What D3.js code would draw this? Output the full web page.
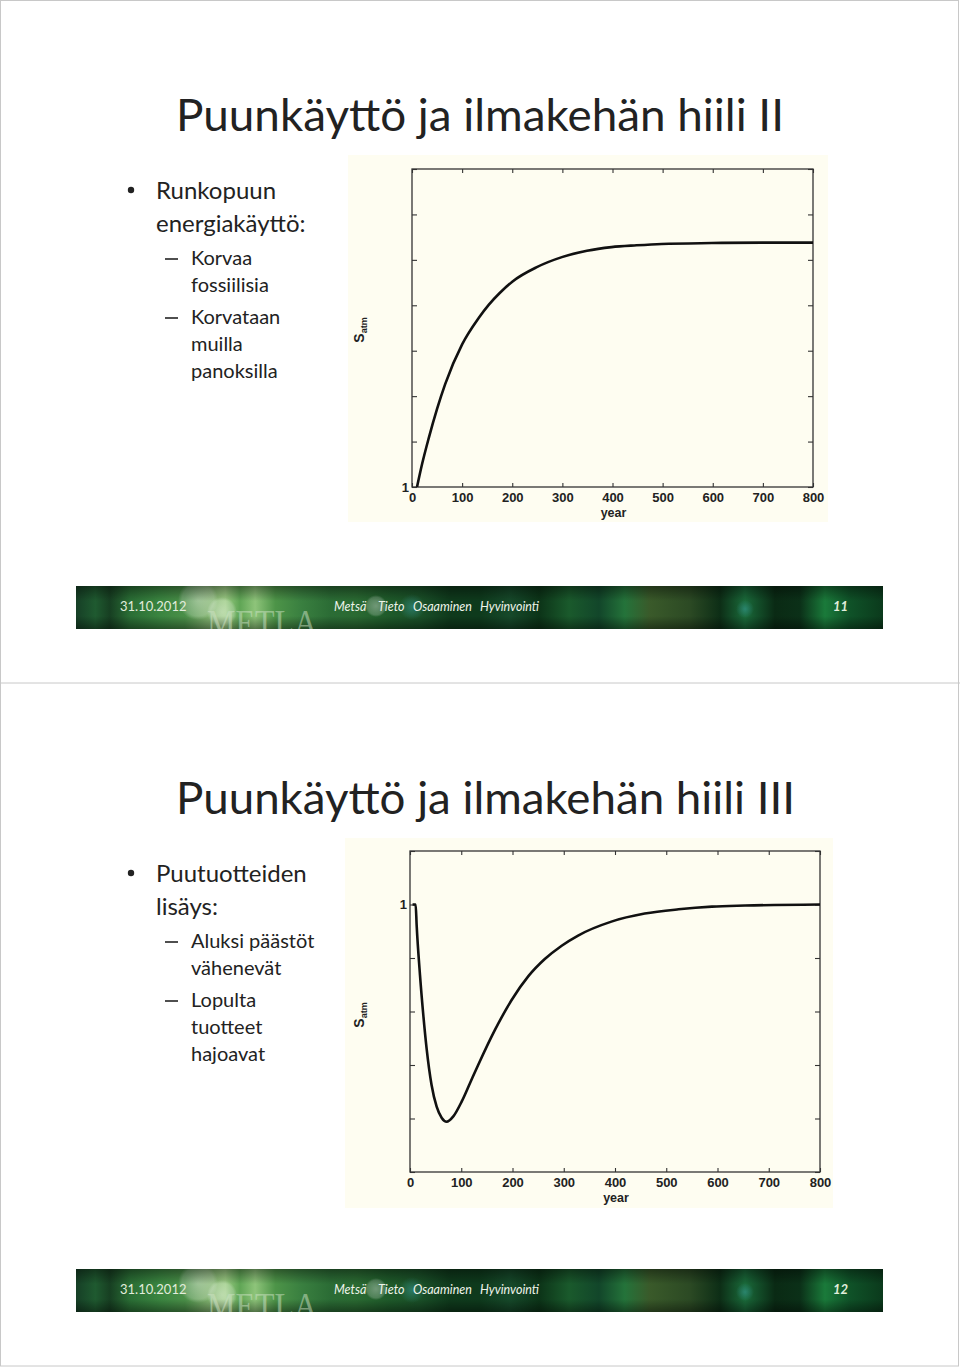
<!DOCTYPE html>
<html>
<head>
<meta charset="utf-8">
<script src="https://cdn.jsdelivr.net/npm/d3@7"></script>
<style>
  html, body { margin: 0; padding: 0; background: #fff; }
  svg { display: block; }
  .ax text { font-family: 'Liberation Sans', Arial, sans-serif; font-weight: bold; font-size: 13px; fill: #222; }
  .ax line { stroke: #333; stroke-width: 1.1; }
</style>
</head>
<body>
<div id="chart"></div>
<script>
// slide 11: energy use of stem wood
const topYears = [10, 20, 33, 50, 66, 100, 133, 153, 175, 200, 249, 299, 349, 398, 448, 498, 598, 700, 800]
const topSatm = [1.000, 1.050, 1.106, 1.172, 1.226, 1.314, 1.372, 1.401, 1.427, 1.452, 1.484, 1.506, 1.520, 1.528, 1.532, 1.535, 1.537, 1.538, 1.538]
const topYTicks = [1, 1.1, 1.2, 1.3, 1.4, 1.5, 1.6, 1.7]

// slide 12: adding wood products
const botYears = [5, 11, 13, 19.5, 26, 32.5, 42, 52, 62, 71.5, 84.5, 101, 117, 133, 166, 198, 231, 263, 296, 328, 393, 458, 524, 589, 654, 800]
const botSatm = [1.0, 1.0, 0.961, 0.868, 0.793, 0.730, 0.663, 0.622, 0.601, 0.594, 0.604, 0.632, 0.666, 0.700, 0.766, 0.821, 0.866, 0.898, 0.923, 0.942, 0.968, 0.983, 0.991, 0.996, 0.998, 1.0]
const botYTicks = [0.5, 0.6, 0.7, 0.8, 0.9, 1.0, 1.1]

const xTicks = [0, 100, 200, 300, 400, 500, 600, 700, 800]

const slides = [
  {
    title: 'Puunkäyttö ja ilmakehän hiili II',
    bullet: ['Runkopuun', 'energiakäyttö:'],
    subs: [['Korvaa', 'fossiilisia'], ['Korvataan', 'muilla', 'panoksilla']],
    page: '11'
  },
  {
    title: 'Puunkäyttö ja ilmakehän hiili III',
    bullet: ['Puutuotteiden', 'lisäys:'],
    subs: [['Aluksi päästöt', 'vähenevät'], ['Lopulta', 'tuotteet', 'hajoavat']],
    page: '12'
  }
]
const footerWords = ['Metsä', 'Tieto', 'Osaaminen', 'Hyvinvointi']
const footerDate = '31.10.2012'

const W = 960
const H = 1367
const textFont = "Lato, 'Open Sans', sans-serif"

const svg = d3.select('#chart').append('svg')
  .attr('width', W)
  .attr('height', H)

const defs = svg.append('defs')

// banner gradient (vertical light streaks)
const bandStops = [
  [0, '#163f26'], [0.024, '#1f5a30'], [0.042, '#173f22'], [0.067, '#2a6e35'],
  [0.104, '#3a8540'], [0.135, '#4a8f48'], [0.16, '#7aae6a'], [0.185, '#9ccc84'],
  [0.203, '#5fa555'], [0.222, '#8ec47a'], [0.247, '#4d9448'], [0.278, '#3a8040'],
  [0.315, '#2b6c35'], [0.347, '#2a6a32'], [0.389, '#1e5a2a'], [0.426, '#1a5028'],
  [0.463, '#0f3a1c'], [0.5, '#0e3a1c'], [0.538, '#16492a'], [0.574, '#0c3418'],
  [0.611, '#1a5a2c'], [0.648, '#12462a'], [0.68, '#24733a'], [0.711, '#3a5a2a'],
  [0.76, '#2c4a24'], [0.798, '#0d2e16'], [0.829, '#1a6a3a'], [0.866, '#0a2a14'],
  [0.897, '#0b3018'], [0.928, '#1a7a3a'], [0.959, '#0f5228'], [1, '#0b3a1c']
]
const bandGrad = defs.append('linearGradient')
  .attr('id', 'band')
  .attr('x1', 0).attr('x2', 1).attr('y1', 0).attr('y2', 0)
bandGrad.selectAll('stop').data(bandStops).join('stop')
  .attr('offset', d => d[0])
  .attr('stop-color', d => d[1])

const shade = defs.append('linearGradient')
  .attr('id', 'shade')
  .attr('x1', 0).attr('x2', 0).attr('y1', 0).attr('y2', 1)
shade.selectAll('stop').data([[0, 0.4], [0.35, 0], [0.7, 0], [1, 0.4]]).join('stop')
  .attr('offset', d => d[0])
  .attr('stop-color', '#000')
  .attr('stop-opacity', d => d[1])

const glow = defs.append('radialGradient').attr('id', 'glow')
glow.append('stop').attr('offset', 0).attr('stop-color', '#fff').attr('stop-opacity', 0.35)
glow.append('stop').attr('offset', 0.8).attr('stop-color', '#fff').attr('stop-opacity', 0.2)
glow.append('stop').attr('offset', 1).attr('stop-color', '#fff').attr('stop-opacity', 0)

const teal = defs.append('radialGradient').attr('id', 'teal')
teal.append('stop').attr('offset', 0).attr('stop-color', '#3aa0a0').attr('stop-opacity', 0.5)
teal.append('stop').attr('offset', 1).attr('stop-color', '#3aa0a0').attr('stop-opacity', 0)

// banner clip, in banner-local coordinates
defs.append('clipPath').attr('id', 'bclip')
  .append('rect').attr('x', 76).attr('y', 586).attr('width', 807).attr('height', 43)

// page frame and slide separator
svg.append('rect')
  .attr('x', 0.5).attr('y', 0.5)
  .attr('width', W - 2).attr('height', H - 1.5)
  .attr('fill', 'none')
  .attr('stroke', '#c8c8c8')
svg.append('line')
  .attr('x1', 0).attr('x2', W)
  .attr('y1', 683).attr('y2', 683)
  .attr('stroke', '#c8c8c8')

const drawSlide = (s, i, oy) => {
  const g = svg.append('g').attr('transform', 'translate(0,' + oy + ')')

  g.append('text')
    .attr('x', 176).attr('y', 131)
    .attr('textLength', i ? 619 : 608)
    .attr('lengthAdjust', 'spacingAndGlyphs')
    .attr('font-family', textFont)
    .attr('font-size', 44)
    .attr('fill', '#222')
    .text(s.title)

  // bullet
  g.append('circle').attr('cx', 131).attr('cy', 190).attr('r', 3.2).attr('fill', '#222')
  s.bullet.forEach((t, k) => {
    g.append('text')
      .attr('x', 156).attr('y', 199 + k * 33)
      .attr('font-family', textFont).attr('font-size', 24).attr('fill', '#222')
      .text(t)
  })

  let y = 265
  s.subs.forEach(lines => {
    g.append('line')
      .attr('x1', 165).attr('x2', 178)
      .attr('y1', y - 6).attr('y2', y - 6)
      .attr('stroke', '#222').attr('stroke-width', 1.6)
    lines.forEach((t, j) => {
      g.append('text')
        .attr('x', 191).attr('y', y + j * 27)
        .attr('font-family', textFont).attr('font-size', 20).attr('fill', '#222')
        .text(t)
    })
    y += lines.length * 27 + 5
  })

  // footer banner
  const bb = g.append('g').attr('clip-path', 'url(#bclip)')
  bb.append('rect').attr('x', 76).attr('y', 586).attr('width', 807).attr('height', 43).attr('fill', 'url(#band)')
  bb.append('circle').attr('cx', 198).attr('cy', 600).attr('r', 20).attr('fill', 'url(#glow)')
  bb.append('circle').attr('cx', 222).attr('cy', 612).attr('r', 15).attr('fill', 'url(#glow)')
  bb.append('circle').attr('cx', 376).attr('cy', 606).attr('r', 11).attr('fill', 'url(#glow)')
  bb.append('circle').attr('cx', 412).attr('cy', 607).attr('r', 13).attr('fill', 'url(#teal)')
  bb.append('circle').attr('cx', 745).attr('cy', 609).attr('r', 9).attr('fill', 'url(#teal)')
  bb.append('rect').attr('x', 76).attr('y', 586).attr('width', 807).attr('height', 43).attr('fill', 'url(#shade)')
  bb.append('text')
    .attr('x', 207).attr('y', 635)
    .attr('textLength', 110).attr('lengthAdjust', 'spacingAndGlyphs')
    .attr('font-family', "'Liberation Serif', 'DejaVu Serif', serif")
    .attr('font-size', 36)
    .attr('fill', '#cfe3c6').attr('fill-opacity', 0.5)
    .text('METLA')
  bb.append('text')
    .attr('x', 120).attr('y', 611)
    .attr('font-family', textFont).attr('font-size', 13)
    .attr('fill', '#e2ecdc')
    .text(footerDate)
  const wx = [334, 378, 413, 480]
  footerWords.forEach((w, k) => {
    bb.append('text')
      .attr('x', wx[k]).attr('y', 611)
      .attr('font-family', textFont).attr('font-style', 'italic').attr('font-size', 12.5)
      .attr('fill', '#eef4ea')
      .text(w)
  })
  bb.append('text')
    .attr('x', 848).attr('y', 611)
    .attr('text-anchor', 'end')
    .attr('font-family', textFont).attr('font-style', 'italic').attr('font-weight', 'bold').attr('font-size', 13)
    .attr('fill', '#e2eedc')
    .text(s.page)
}

slides.forEach((s, i) => drawSlide(s, i, i ? 683 : 0))

const drawChart = (cfg) => {
  const g = svg.append('g')

  g.append('rect')
    .attr('x', cfg.panel[0]).attr('y', cfg.panel[1])
    .attr('width', cfg.panel[2]).attr('height', cfg.panel[3])
    .attr('fill', '#fefdf1')

  const x = d3.scaleLinear().domain([0, 800]).range([cfg.box[0], cfg.box[2]])
  const y = d3.scaleLinear().domain(cfg.yDomain).range([cfg.box[3], cfg.box[1]])

  const fmtY = d => (Math.abs(d - 1) < 1e-9 ? '1' : '')

  g.append('g').attr('class', 'ax')
    .attr('transform', 'translate(0,' + cfg.box[3] + ')')
    .call(d3.axisBottom(x).tickValues(xTicks).tickSizeInner(-4).tickSizeOuter(0).tickPadding(6))
  g.append('g').attr('class', 'ax')
    .attr('transform', 'translate(0,' + cfg.box[1] + ')')
    .call(d3.axisTop(x).tickValues(xTicks).tickSizeInner(-4).tickSizeOuter(0).tickFormat(''))
  g.append('g').attr('class', 'ax')
    .attr('transform', 'translate(' + cfg.box[0] + ',0)')
    .call(d3.axisLeft(y).tickValues(cfg.yTicks).tickSizeInner(-5).tickSizeOuter(0).tickPadding(3).tickFormat(fmtY))
  g.append('g').attr('class', 'ax')
    .attr('transform', 'translate(' + cfg.box[2] + ',0)')
    .call(d3.axisRight(y).tickValues(cfg.yTicks).tickSizeInner(-5).tickSizeOuter(0).tickFormat(''))
  g.selectAll('.ax .domain').remove()

  g.append('rect')
    .attr('x', cfg.box[0]).attr('y', cfg.box[1])
    .attr('width', cfg.box[2] - cfg.box[0]).attr('height', cfg.box[3] - cfg.box[1])
    .attr('fill', 'none')
    .attr('stroke', '#333')
    .attr('stroke-width', 1.3)

  const line = d3.line()
    .x(d => x(d[0]))
    .y(d => y(d[1]))
    .curve(d3.curveMonotoneX)

  g.append('path')
    .datum(d3.zip(cfg.years, cfg.values))
    .attr('d', line)
    .attr('fill', 'none')
    .attr('stroke', '#111')
    .attr('stroke-width', 2.6)
    .attr('stroke-linejoin', 'round')

  g.append('text')
    .attr('x', x(400) + 1).attr('y', cfg.box[3] + 30)
    .attr('text-anchor', 'middle')
    .attr('font-family', "'Liberation Sans', Arial, sans-serif")
    .attr('font-weight', 'bold').attr('font-size', 12.5).attr('fill', '#222')
    .text('year')

  const yl = g.append('text')
    .attr('transform', 'translate(' + cfg.yLabel[0] + ',' + cfg.yLabel[1] + ') rotate(-90)')
    .attr('text-anchor', 'middle')
    .attr('font-family', "'Liberation Sans', Arial, sans-serif")
    .attr('font-weight', 'bold').attr('fill', '#222')
  yl.append('tspan').attr('font-size', 14).text('S')
  yl.append('tspan').attr('font-size', 9).attr('dy', 3).text('atm')
}

drawChart({
  panel: [348, 155, 480, 367],
  box: [412, 169, 813, 487],
  yDomain: [1, 1.7],
  yTicks: topYTicks,
  years: topYears,
  values: topSatm,
  yLabel: [364, 330]
})

drawChart({
  panel: [345, 838, 488, 370],
  box: [410, 851, 820, 1172],
  yDomain: [0.5, 1.1],
  yTicks: botYTicks,
  years: botYears,
  values: botSatm,
  yLabel: [364, 1015]
})
</script>
</body>
</html>
